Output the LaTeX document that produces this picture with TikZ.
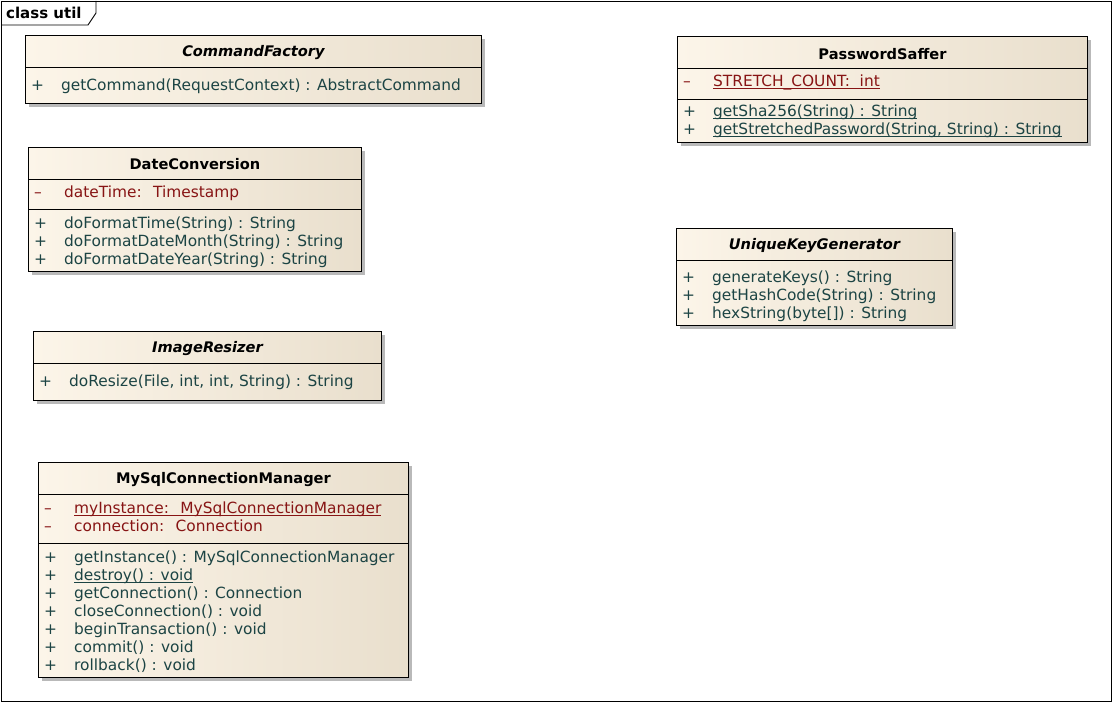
\documentclass[tikz,border=0pt]{standalone}
\usepackage{fontspec}
\setmainfont{DejaVu Sans}
\usetikzlibrary{positioning, calc, shadows}
\definecolor{cBoxL}{RGB}{252,245,233}
\definecolor{cBoxR}{RGB}{233,223,205}
\definecolor{cShadow}{RGB}{185,185,185}
\definecolor{cOp}{RGB}{28,68,68}
\definecolor{cAttr}{RGB}{135,20,20}
\newcommand{\ulin}[1]{\setbox0\hbox{#1}\rlap{\vrule height -1.5pt depth 2.5pt width \wd0}\box0}
\tikzset{
  classbox/.style={rectangle, draw=black, line width=0.9pt, left color=cBoxL,
                   right color=cBoxR, anchor=north west, inner sep=0pt,
                   drop shadow={shadow xshift=4pt, shadow yshift=-4pt,
                                fill=cShadow, opacity=1}},
  sepline/.style={draw=black, line width=0.9pt},
  classname/.style={font=\fontsize{14.6}{16}\selectfont\bfseries, inner sep=0pt},
  abstractname/.style={font=\fontsize{14.6}{16}\selectfont\bfseries\itshape, inner sep=0pt},
  opline/.style={anchor=mid west, inner sep=0pt, text=cOp,
                 font=\fontsize{15.4}{18}\selectfont},
  attrline/.style={opline, text=cAttr},
  frametitle/.style={anchor=west, inner sep=0pt,
                     font=\fontsize{15}{16}\selectfont\bfseries}
}

\begin{document}
\begin{tikzpicture}[x=1pt, y=-1pt]
  \useasboundingbox (0,0) rectangle (1113,703);

  % Package frame
  \draw[line width=0.9pt] (1,1) rectangle (1111,701);
  \draw[line width=0.9pt] (1,25) -- (88,25) -- (96,13) -- (96,1);
  \node[frametitle] (frameTitle) at (6,13) {class util};

  % CommandFactory
  \node[classbox, minimum width=456pt, minimum height=68pt] (cmdFactory) at (25,35) {};
  \node[abstractname] (cmdFactoryName) at ($(cmdFactory.north)+(0,18)$) {CommandFactory};
  \draw[sepline] ($(cmdFactory.north west)+(0,32)$) -- ($(cmdFactory.north east)+(0,32)$);
  \node[opline] (cmdFactoryOp) at ($(cmdFactory.north west)+(6,53)$)
    {\makebox[30pt][l]{+}getCommand(RequestContext) : AbstractCommand};

  % PasswordSaffer
  \node[classbox, minimum width=410pt, minimum height=106pt] (pwSaffer) at (677,36) {};
  \node[classname] (pwSafferName) at ($(pwSaffer.north)+(0,18)$) {PasswordSaffer};
  \draw[sepline] ($(pwSaffer.north west)+(0,32)$) -- ($(pwSaffer.north east)+(0,32)$);
  \draw[sepline] ($(pwSaffer.north west)+(0,63)$) -- ($(pwSaffer.north east)+(0,63)$);
  \node[attrline] (pwSafferAttr) at ($(pwSaffer.north west)+(6,48)$)
    {\makebox[30pt][l]{–}\ulin{STRETCH\_COUNT:~ int}};
  \foreach \k/\t in {0/{getSha256(String) : String},
                     1/{getStretchedPassword(String, String) : String}} {
    \node[opline] (pwSafferOp\k) at ($(pwSaffer.north west)+(6,78+18*\k)$)
      {\makebox[30pt][l]{+}\ulin{\t}};
  }

  % DateConversion
  \node[classbox, minimum width=333pt, minimum height=124pt] (dateConv) at (28,147) {};
  \node[classname] (dateConvName) at ($(dateConv.north)+(0,17)$) {DateConversion};
  \draw[sepline] ($(dateConv.north west)+(0,32)$) -- ($(dateConv.north east)+(0,32)$);
  \draw[sepline] ($(dateConv.north west)+(0,62)$) -- ($(dateConv.north east)+(0,62)$);
  \node[attrline] (dateConvAttr) at ($(dateConv.north west)+(6,48)$)
    {\makebox[30pt][l]{–}dateTime:~ Timestamp};
  \foreach \k/\t in {0/{doFormatTime(String) : String},
                     1/{doFormatDateMonth(String) : String},
                     2/{doFormatDateYear(String) : String}} {
    \node[opline] (dateConvOp\k) at ($(dateConv.north west)+(6,79+18*\k)$)
      {\makebox[30pt][l]{+}\t};
  }

  % UniqueKeyGenerator
  \node[classbox, minimum width=276pt, minimum height=97pt] (keyGen) at (676,228) {};
  \node[abstractname] (keyGenName) at ($(keyGen.north)+(0,18)$) {UniqueKeyGenerator};
  \draw[sepline] ($(keyGen.north west)+(0,32)$) -- ($(keyGen.north east)+(0,32)$);
  \foreach \k/\t in {0/{generateKeys() : String},
                     1/{getHashCode(String) : String},
                     2/{hexString(byte[]) : String}} {
    \node[opline] (keyGenOp\k) at ($(keyGen.north west)+(6,52+18*\k)$)
      {\makebox[30pt][l]{+}\t};
  }

  % ImageResizer
  \node[classbox, minimum width=348pt, minimum height=69pt] (imgResizer) at (33,331) {};
  \node[abstractname] (imgResizerName) at ($(imgResizer.north)+(0,18)$) {ImageResizer};
  \draw[sepline] ($(imgResizer.north west)+(0,32)$) -- ($(imgResizer.north east)+(0,32)$);
  \node[opline] (imgResizerOp) at ($(imgResizer.north west)+(6,53)$)
    {\makebox[30pt][l]{+}doResize(File, int, int, String) : String};

  % MySqlConnectionManager
  \node[classbox, minimum width=370pt, minimum height=215pt] (connMgr) at (38,462) {};
  \node[classname] (connMgrName) at ($(connMgr.north)+(0,18)$) {MySqlConnectionManager};
  \draw[sepline] ($(connMgr.north west)+(0,32)$) -- ($(connMgr.north east)+(0,32)$);
  \draw[sepline] ($(connMgr.north west)+(0,81)$) -- ($(connMgr.north east)+(0,81)$);
  \node[attrline] (connMgrAttr0) at ($(connMgr.north west)+(6,49)$)
    {\makebox[30pt][l]{–}\ulin{myInstance:~ MySqlConnectionManager}};
  \node[attrline] (connMgrAttr1) at ($(connMgr.north west)+(6,67)$)
    {\makebox[30pt][l]{–}connection:~ Connection};
  \foreach \k/\t in {0/{getInstance() : MySqlConnectionManager},
                     1/{\ulin{destroy() : void}},
                     2/{getConnection() : Connection},
                     3/{closeConnection() : void},
                     4/{beginTransaction() : void},
                     5/{commit() : void},
                     6/{rollback() : void}} {
    \node[opline] (connMgrOp\k) at ($(connMgr.north west)+(6,98+18*\k)$)
      {\makebox[30pt][l]{+}\t};
  }
\end{tikzpicture}
\end{document}
